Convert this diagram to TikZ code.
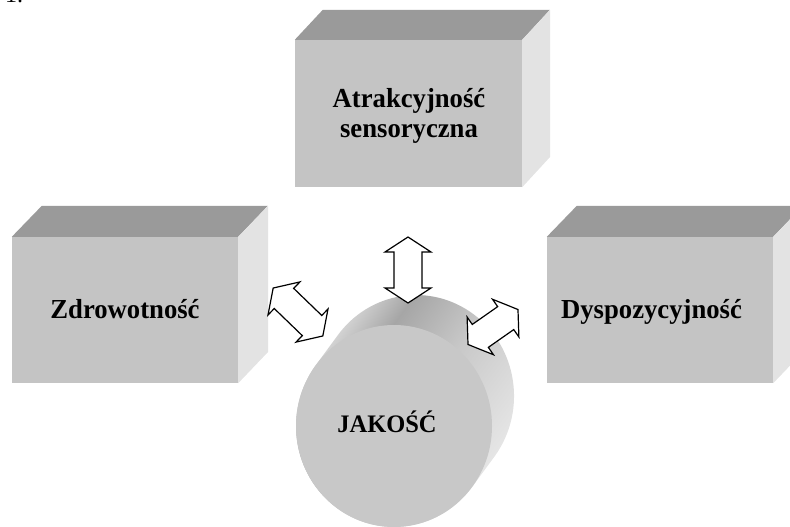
\documentclass[tikz,border=0pt]{standalone}
\usepackage{fontspec}
\setmainfont{Liberation Serif}
\newfontfamily\lblfont[FakeStretch=0.97]{Liberation Serif}
\usetikzlibrary{shapes.geometric}
\definecolor{boxfront}{HTML}{C4C4C4}
\definecolor{boxtop}{HTML}{9A9A9A}
\definecolor{boxside}{HTML}{E3E3E3}
\definecolor{cylfront}{HTML}{C8C8C8}
\definecolor{sideL}{HTML}{D4D4D4}
\definecolor{sideD}{HTML}{A6A6A6}
\definecolor{sideM}{HTML}{C9C9C9}
\definecolor{sideR}{HTML}{E6E6E6}
\pgfdeclarehorizontalshading{cylside}{100bp}{color(0bp)=(sideL); color(25bp)=(sideL); color(35bp)=(sideD); color(52bp)=(sideM); color(75bp)=(sideR); color(100bp)=(sideR)}
\tikzset{
  frontface/.style={fill=boxfront, draw=none, inner sep=0pt},
  topface/.style={fill=boxtop},
  sideface/.style={fill=boxside},
  lbl/.style={font=\lblfont\bfseries\fontsize{27.5}{30.5}\selectfont, inner sep=0pt, align=center},
  lblj/.style={font=\lblfont\bfseries\fontsize{25.2}{29}\selectfont, inner sep=0pt},
  blockarrow/.style={draw=black, fill=white, line width=1.2pt, line join=miter},
  pics/dblarrow/.style={code={
    \draw[blockarrow] (#1,0) -- ({#1-15},23) -- ({#1-15},14) -- ({-#1+15},14) -- ({-#1+15},23)
      -- ({-#1},0) -- ({-#1+15},-23) -- ({-#1+15},-14) -- ({#1-15},-14) -- ({#1-15},-23) -- cycle;
  }}
}
\begin{document}
\begin{tikzpicture}[x=1pt,y=-1pt]
\useasboundingbox (0,0) rectangle (790,527);
\clip (0,0) rectangle (790,527);

% fragment of number at the top
\node[anchor=base west, inner sep=0pt, font=\fontsize{24}{28}\selectfont] (num) at (5,2.5) {1.};

% top box
\node[frontface, minimum width=227pt, minimum height=147pt] (atrbox) at (408.5,113.5) {};
\fill[topface] (atrbox.north west) -- ++(28,-30) -- ++(227,0) -- (atrbox.north east) -- cycle;
\fill[sideface] (atrbox.north east) -- ++(28,-30) -- ++(0,147) -- (atrbox.south east) -- cycle;
\node[lbl] (atr) at (409,116) {Atrakcyjność\\sensoryczna};

% left box
\node[frontface, minimum width=226pt, minimum height=146pt] (zdrbox) at (125,310) {};
\fill[topface] (zdrbox.north west) -- ++(30,-31) -- ++(226,0) -- (zdrbox.north east) -- cycle;
\fill[sideface] (zdrbox.north east) -- ++(30,-31) -- ++(0,146) -- (zdrbox.south east) -- cycle;
\node[lbl, anchor=base] (zdr) at (125,318) {Zdrowotność};

% right box
\node[frontface, minimum width=226pt, minimum height=146pt] (dysbox) at (660,310) {};
\fill[topface] (dysbox.north west) -- ++(30,-31) -- ++(226,0) -- (dysbox.north east) -- cycle;
\fill[sideface] (dysbox.north east) -- ++(30,-31) -- ++(0,146) -- (dysbox.south east) -- cycle;
\node[lbl, anchor=base] (dys) at (651.5,318) {Dyspozycyjność};

% cylinder side
\begin{scope}
\clip (315.0,366.3) -- (337.0,336.3) arc[start angle=216.25, end angle=396.25, x radius=98, y radius=101]
  -- (473.05,485.7) arc[start angle=36.25, end angle=216.25, x radius=98, y radius=101] -- cycle;
\begin{scope}[transform canvas={shift={(405pt,-411pt)},rotate=-36.25}]
\shade[shading=cylside] (-101pt,-170pt) rectangle (101pt,170pt);
\end{scope}
\end{scope}
% cylinder front
\node[ellipse, fill=cylfront, draw=none, minimum width=196pt, minimum height=202pt, inner sep=0pt] (cyl) at (394,426) {};
\node[lblj, anchor=base] (jakosc) at (387,432) {JAKOŚĆ};

% double block arrows
\pic[rotate=90] (arrtop) at (408,270) {dblarrow=33};
\pic[rotate=-44] (arrleft) at (298,312) {dblarrow=34.5};
\pic[rotate=35] (arrright) at (493,327) {dblarrow=30.5};
\end{tikzpicture}
\end{document}
